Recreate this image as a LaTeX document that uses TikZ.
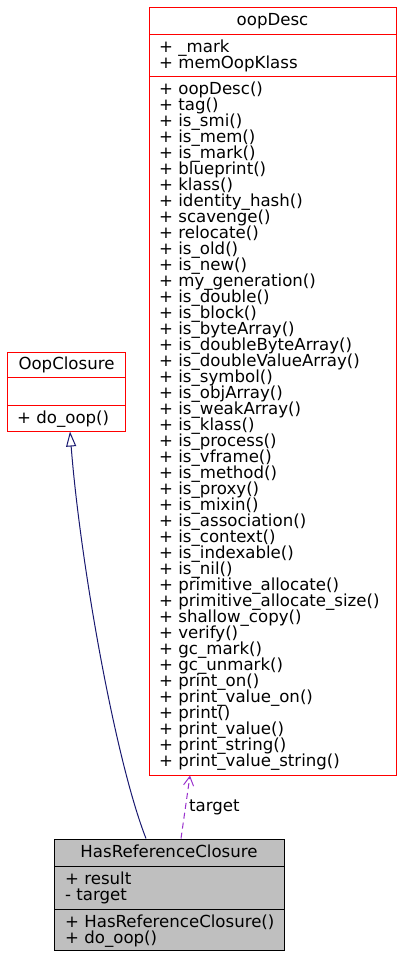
\documentclass[tikz,border=0pt]{standalone}
\usepackage{fontspec}
\setmainfont{DejaVu Sans}
\usetikzlibrary{arrows.meta,calc}
\definecolor{boxred}{RGB}{255,0,0}
\definecolor{edgenavy}{RGB}{25,25,112}
\definecolor{edgepurple}{RGB}{154,50,205}
\definecolor{boxgray}{RGB}{191,191,191}
\begin{document}
\begin{tikzpicture}[x=1pt,y=-1pt,
  txt/.style={inner sep=0pt,anchor=base west,font=\fontsize{16.6}{16}\selectfont},
  ttl/.style={inner sep=0pt,anchor=base,font=\fontsize{16.6}{16}\selectfont},
  redbox/.style={draw=boxred,line width=1pt,rectangle,inner sep=0pt},
  graybox/.style={draw=black,fill=boxgray,line width=1pt,rectangle,inner sep=0pt},
  sep/.style={line width=1pt}]
\useasboundingbox (0,0) rectangle (402,959);
% oopDesc
\node[redbox,minimum width=247pt,minimum height=768pt] (oop) at (272.5,391) {};
\draw[sep,boxred] (149,34) -- (396,34);
\draw[sep,boxred] (149,76) -- (396,76);
\node[ttl] (oopt) at (272.5,25) {oopDesc};
\node[txt] (oa1) at (159,52) {+ \_mark};
\node[txt] (oa2) at (159,68) {+ memOopKlass};
\foreach \t [count=\i] in {oopDesc(),tag(),is\_smi(),is\_mem(),is\_mark(),blueprint(),klass(),identity\_hash(),scavenge(),relocate(),is\_old(),is\_new(),my\_generation(),is\_double(),is\_block(),is\_byteArray(),is\_doubleByteArray(),is\_doubleValueArray(),is\_symbol(),is\_objArray(),is\_weakArray(),is\_klass(),is\_process(),is\_vframe(),is\_method(),is\_proxy(),is\_mixin(),is\_association(),is\_context(),is\_indexable(),is\_nil(),primitive\_allocate(),primitive\_allocate\_size(),shallow\_copy(),verify(),gc\_mark(),gc\_unmark(),print\_on(),print\_value\_on(),print(),print\_value(),print\_string(),print\_value\_string()}
  \node[txt] (om\i) at (159,{94+16*(\i-1)}) {+ \t};
% OopClosure
\node[redbox,minimum width=118pt,minimum height=79pt] (oc) at (66.5,391.5) {};
\draw[sep,boxred] (7.5,377) -- (125.5,377);
\draw[sep,boxred] (7.5,405) -- (125.5,405);
\node[ttl] (oct) at (66.5,369) {OopClosure};
\node[txt] (ocm1) at (17,423) {+ do\_oop()};
% HasReferenceClosure
\node[graybox,minimum width=230pt,minimum height=111pt] (hrc) at (169,894.5) {};
\draw[sep] (54,866) -- (284,866);
\draw[sep] (54,909) -- (284,909);
\node[ttl] (hrct) at (169,857) {HasReferenceClosure};
\node[txt] (ha1) at (65,884) {+ result};
\node[txt] (ha2) at (65,900) {- target};
\node[txt] (hm1) at (65,927) {+ HasReferenceClosure()};
\node[txt] (hm2) at (65,943) {+ do\_oop()};
% edges
\draw[edgenavy,line width=1pt,-{Triangle[open,length=15pt,width=10pt]}]
  ($(hrc.north)+(-23,0)$) .. controls ($(hrc.north)+(-54,-79)$) and ($(oc.south)+(13.5,129)$) .. ($(oc.south)+(3.5,0)$);
\draw[edgepurple,line width=1pt,dashed,dash pattern=on 6pt off 4pt,-{Straight Barb[length=9pt,width=10pt]}]
  ($(hrc.north)+(12,0)$) -- ($(oop.south)+(-82.5,0)$);
\node[txt] (lbl) at (189,811) {target};
\end{tikzpicture}
\end{document}
